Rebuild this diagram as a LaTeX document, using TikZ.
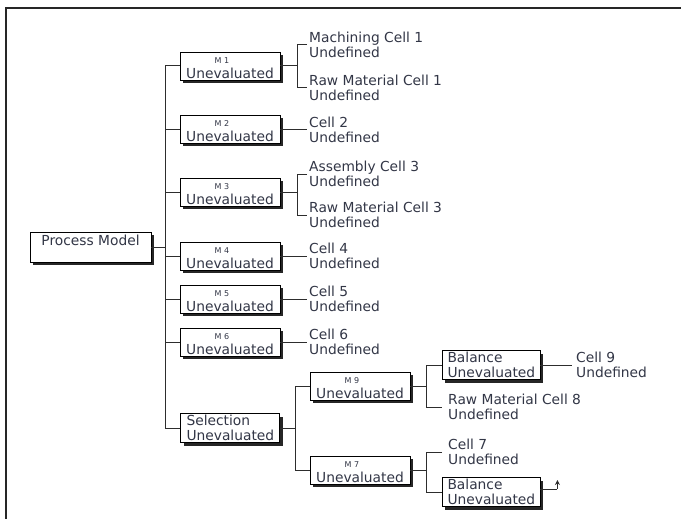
\documentclass[tikz,border=0pt]{standalone}
\usepackage{fontspec}
\setmainfont{DejaVu Sans}
\usetikzlibrary{shadows,arrows.meta}
\definecolor{txt}{RGB}{50,54,70}
\definecolor{ln}{RGB}{45,45,45}
\tikzset{
  box/.style={draw=black, line width=0.9pt, fill=white,
    drop shadow={shadow xshift=3pt, shadow yshift=-3pt, fill=black!85, opacity=1},
    inner sep=0pt, text=txt, font=\fontsize{13.8}{15}\selectfont},
  mbox/.style={box, minimum width=100pt, minimum height=28pt, align=center},
  lbox/.style={box, minimum width=99pt, minimum height=29pt, text width=87pt, align=left},
  leaf/.style={anchor=west, inner ysep=0pt, inner xsep=2pt, text=txt, align=left,
    font=\fontsize{13.8}{15}\selectfont},
  leafb/.style={leaf, inner xsep=6pt},
  conn/.style={draw=ln, line width=1pt},
}
\newcommand{\mlab}[1]{\rule{0pt}{9.5pt}{\fontsize{8}{9}\selectfont M #1}\hspace*{16pt}}
\begin{document}
\begin{tikzpicture}[x=1pt, y=-1pt]
\useasboundingbox (0,0) rectangle (681,519);
\draw[line width=2pt, black!85] (681,8) -- (6,8) -- (6,519);

% root
\node[box, minimum width=121pt, minimum height=30pt, text height=12pt, text depth=16pt]
  (pm) at (90.5,247) {Process Model};

% first level
\node[mbox] (m1) at (230,66) {\mlab{1}\\Unevaluated};
\node[mbox] (m2) at (230,129.5) {\mlab{2}\\Unevaluated};
\node[mbox] (m3) at (230,192) {\mlab{3}\\Unevaluated};
\node[mbox] (m4) at (230,256) {\mlab{4}\\Unevaluated};
\node[mbox] (m5) at (230,299) {\mlab{5}\\Unevaluated};
\node[mbox] (m6) at (230,342) {\mlab{6}\\Unevaluated};
\node[lbox] (sel) at (230,428) {Selection\\Unevaluated};

% leaves of first level
\node[leaf] (l11) at (307,45) {Machining Cell 1\\Undefined};
\node[leaf] (l12) at (307,88) {Raw Material Cell 1\\Undefined};
\node[leaf] (l2) at (307,129.5) {Cell 2\\Undefined};
\node[leaf] (l31) at (307,174) {Assembly Cell 3\\Undefined};
\node[leaf] (l32) at (307,215) {Raw Material Cell 3\\Undefined};
\node[leaf] (l4) at (307,256) {Cell 4\\Undefined};
\node[leaf] (l5) at (307,299) {Cell 5\\Undefined};
\node[leaf] (l6) at (307,342) {Cell 6\\Undefined};

% selection subtree
\node[mbox] (m9) at (360,386) {\mlab{9}\\Unevaluated};
\node[mbox] (m7) at (360,470) {\mlab{7}\\Unevaluated};
\node[lbox, minimum width=98pt] (bal1) at (491,365) {Balance\\Unevaluated};
\node[lbox, minimum width=98pt] (bal2) at (491,492) {Balance\\Unevaluated};
\node[leafb] (l8) at (442,407) {Raw Material Cell 8\\Undefined};
\node[leafb] (l7) at (442,452) {Cell 7\\Undefined};
\node[leaf, inner xsep=4pt] (l9) at (572,365) {Cell 9\\Undefined};

% connectors: trunk
\coordinate (t) at (165,247);
\draw[conn] (pm.east) -- (t);
\foreach \n in {m1,m2,m3,m4,m5,m6,sel} {\draw[conn] (t) |- (\n.west);}

% first-level brackets
\draw[conn] (m1.east) -- ++(17,0) coordinate (b1);
\draw[conn] (l11.west) -| (b1) |- (l12.west);
\draw[conn] (m2.east) -- (l2.west);
\draw[conn] (m3.east) -- ++(17,0) coordinate (b3);
\draw[conn] (l31.west) -| (b3) |- (l32.west);
\draw[conn] (m4.east) -- (l4.west);
\draw[conn] (m5.east) -- (l5.west);
\draw[conn] (m6.east) -- (l6.west);

% selection
\draw[conn] (sel.east) -- ++(16,0) coordinate (s);
\draw[conn] (m9.west) -| (s) |- (m7.west);
\draw[conn] (m9.east) -- ++(16,0) coordinate (n9);
\draw[conn] (bal1.west) -| (n9) |- (l8.west);
\draw[conn] (m7.east) -- ++(16,0) coordinate (n7);
\draw[conn] (l7.west) -| (n7) |- (bal2.west);
\draw[conn] (bal1.east) -- (l9.west);
\draw[conn] (bal2.east) ++(0,-3) -- ++(17,0) coordinate (a1);
\draw[conn, -{Stealth[length=5pt,width=5pt]}] (a1) -- ++(0,-9) coordinate (a2);
\end{tikzpicture}
\end{document}
